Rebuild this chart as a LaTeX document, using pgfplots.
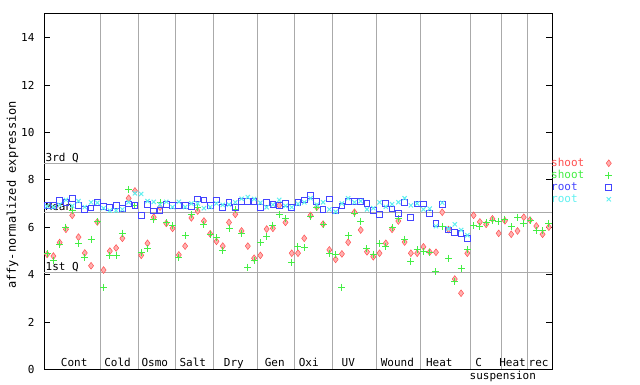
\documentclass[border=0pt]{standalone}
\usepackage{pgfplots}
\pgfplotsset{compat=1.18}
\usepackage{pgfplotstable}
\usepackage{fontspec}
\setmainfont{DejaVu Sans Mono}
\setmonofont{DejaVu Sans Mono}
\definecolor{cred}{HTML}{FF5050}
\definecolor{credfill}{HTML}{FFB0B0}
\definecolor{cgreen}{HTML}{44EE44}
\definecolor{cblue}{HTML}{4444FF}
\definecolor{ccyan}{HTML}{60F0F0}
\definecolor{cgrid}{HTML}{AAAAAA}
\pgfplotstableread{
x r g b c
0.5 4.85 4.87 6.93 6.88
1.5 4.78 4.61 6.92 6.85
2.5 5.35 5.28 7.11 6.95
3.5 5.91 6.00 7.03 7.15
4.5 6.50 6.70 7.22 6.90
5.5 5.58 5.32 6.93 7.10
6.5 4.91 4.70 6.75 6.85
7.5 4.37 5.50 6.81 7.05
8.5 6.22 6.22 7.03 7.03
9.5 4.19 3.47 6.86 6.80
10.5 4.99 4.81 6.84 6.70
11.5 5.12 4.81 6.93 6.70
12.5 5.53 5.75 6.80 6.75
13.5 7.22 7.60 6.98 7.05
14.5 7.53 6.90 6.93 7.43
15.5 4.81 4.94 6.50 7.40
16.5 5.32 5.08 6.97 7.10
17.5 6.42 6.33 6.68 7.07
18.5 6.84 7.03 6.72 6.95
19.5 6.16 6.18 6.94 7.07
20.5 5.95 6.05 6.90 6.85
21.5 4.83 4.71 6.90 7.07
22.5 5.20 5.63 6.90 6.85
23.5 6.39 6.54 6.88 7.00
24.5 6.68 6.84 7.19 7.00
25.5 6.26 6.12 7.15 6.80
26.5 5.72 5.67 6.90 6.85
27.5 5.40 5.56 7.15 7.00
28.5 5.20 5.02 6.84 6.94
29.5 6.20 5.95 7.03 6.95
30.5 6.54 6.75 6.84 7.05
31.5 5.84 5.74 7.10 7.20
32.5 5.20 4.31 7.10 7.27
33.5 4.69 4.58 7.10 7.19
34.5 4.81 5.36 6.84 7.03
35.5 5.92 5.61 7.05 6.84
36.5 5.95 6.09 6.97 6.95
37.5 6.92 6.54 6.93 7.15
38.5 6.20 6.37 7.00 6.90
39.5 4.90 4.52 6.84 6.84
40.5 4.90 5.18 7.05 6.98
41.5 5.53 5.13 7.15 7.05
42.5 6.50 6.44 7.33 7.22
43.5 6.84 6.84 7.10 6.95
44.5 6.13 6.13 6.75 7.05
45.5 5.04 4.87 7.19 6.75
46.5 4.64 4.85 6.72 6.65
47.5 4.87 3.47 6.89 7.00
48.5 5.36 5.63 7.10 7.22
49.5 6.63 6.56 7.10 7.05
50.5 5.88 6.26 7.07 7.10
51.5 4.96 5.08 7.00 6.75
52.5 4.75 4.85 6.72 6.80
53.5 4.90 5.32 6.54 7.05
54.5 5.32 5.20 7.00 6.86
55.5 5.91 5.98 6.77 6.97
56.5 6.26 6.37 6.58 7.05
57.5 5.37 5.50 7.05 7.22
58.5 4.90 4.57 6.42 6.92
59.5 4.90 5.04 6.98 7.00
60.5 5.17 4.98 6.98 6.75
61.5 4.95 4.95 6.58 6.78
62.5 4.94 4.12 6.16 6.04
63.5 6.63 6.04 6.94 7.03
64.5 5.90 4.69 5.88 5.94
65.5 3.81 3.70 5.78 6.12
66.5 3.21 4.26 5.74 5.88
67.5 4.90 5.06 5.53 5.66
68.5 6.50 6.07 nan nan
69.5 6.22 6.02 nan nan
70.5 6.12 6.20 nan nan
71.5 6.35 6.30 nan nan
72.5 5.74 6.25 nan nan
73.5 6.27 6.34 nan nan
74.5 5.70 6.02 nan nan
75.5 5.84 6.42 nan nan
76.5 6.42 6.16 nan nan
77.5 6.30 6.27 nan nan
78.5 6.05 5.84 nan nan
79.5 5.70 5.84 nan nan
80.5 6.00 6.16 nan nan
}\data
\begin{document}
\begin{tikzpicture}
\path[use as bounding box] (0pt,0pt) rectangle (640pt,384pt);
\node[rotate=90, font=\fontsize{12}{12}\selectfont] at (12.5pt,189pt) {affy-normalized expression};
\begin{axis}[
  at={(44pt,14.7pt)}, anchor=south west,
  scale only axis, width=508pt, height=356.3pt,
  xmin=0, xmax=81, ymin=0, ymax=15.04,
  xtick={9,15,21,27,34,40,46,53,60,68,73,77},
  xticklabels={},
  xmajorgrids,
  major x tick style={draw=none},
  ytick={0,2,...,14},
  ytick pos=both,
  major tick length=5.5pt,
  extra y ticks={4.09,6.63,8.70},
  extra y tick labels={},
  extra y tick style={ymajorgrids=true, major tick length=0pt},
  major grid style={cgrid, line width=0.8pt},
  axis line style={line width=0.8pt},
  every tick/.style={black, line width=0.8pt},
  font=\fontsize{11}{12}\selectfont,
  /pgf/number format/assume math mode=true,
  yticklabel style={xshift=-6pt},
  clip=false,
  legend style={at={(0.997,0.595)}, anchor=north west, draw=none, fill=none,
    inner sep=0pt, row sep=0.5pt, font=\fontsize{11}{12}\selectfont,
    nodes={inner sep=0.5pt, text height=8pt, text depth=2.5pt}},
  legend cell align=left,
  legend plot pos=right,
  legend image code/.code={\path[draw=none,fill=none] (0pt,-1pt) rectangle (30pt,1pt); \draw[#1] plot coordinates {(24pt,0pt)};},
]
\addplot[only marks, mark=diamond*, mark size=3.4pt, cred, mark options={fill=credfill, line width=0.5pt}] table[x=x,y=r]{\data};
\addlegendentry{\textcolor{cred}{shoot}}
\addplot[only marks, mark=+, mark size=3.5pt, cgreen, mark options={line width=1pt}] table[x=x,y=g]{\data};
\addlegendentry{\textcolor{cgreen}{shoot}}
\addplot[only marks, mark=square, mark size=2.9pt, cblue, mark options={line width=1pt}] table[x=x,y=b]{\data};
\addlegendentry{\textcolor{cblue}{root}}
\addplot[only marks, mark=x, mark size=3pt, ccyan, mark options={line width=1pt}] table[x=x,y=c]{\data};
\addlegendentry{\textcolor{ccyan}{root}}
\node[anchor=base west, inner sep=0pt] at (axis cs:0,8.70) [xshift=1.5pt, yshift=1.8pt] {3rd Q};
\node[anchor=base west, inner sep=0pt] at (axis cs:0,6.63) [xshift=1.5pt, yshift=1.8pt] {Mean};
\node[anchor=base west, inner sep=0pt] at (axis cs:0,4.09) [xshift=1.5pt, yshift=1.8pt] {1st Q};
\node[anchor=base, inner sep=0pt] at (axis cs:4.82,0) [yshift=2.5pt] {Cont};
\node[anchor=base, inner sep=0pt] at (axis cs:11.72,0) [yshift=2.5pt] {Cold};
\node[anchor=base, inner sep=0pt] at (axis cs:17.66,0) [yshift=2.5pt] {Osmo};
\node[anchor=base, inner sep=0pt] at (axis cs:23.73,0) [yshift=2.5pt] {Salt};
\node[anchor=base, inner sep=0pt] at (axis cs:30.27,0) [yshift=2.5pt] {Dry};
\node[anchor=base, inner sep=0pt] at (axis cs:36.79,0) [yshift=2.5pt] {Gen};
\node[anchor=base, inner sep=0pt] at (axis cs:42.22,0) [yshift=2.5pt] {Oxi};
\node[anchor=base, inner sep=0pt] at (axis cs:48.53,0) [yshift=2.5pt] {UV};
\node[anchor=base, inner sep=0pt] at (axis cs:56.35,0) [yshift=2.5pt] {Wound};
\node[anchor=base, inner sep=0pt] at (axis cs:63.03,0) [yshift=2.5pt] {Heat};
\node[anchor=base, inner sep=0pt] at (axis cs:69.3,0) [yshift=2.5pt] {C};
\node[anchor=base, inner sep=0pt] at (axis cs:73.16,0) [yshift=-10.5pt] {suspension};
\node[anchor=base, inner sep=0pt] at (axis cs:74.72,0) [yshift=2.5pt] {Heat};
\node[anchor=base, inner sep=0pt] at (axis cs:78.87,0) [yshift=2.5pt] {rec};
\end{axis}
\end{tikzpicture}
\end{document}
